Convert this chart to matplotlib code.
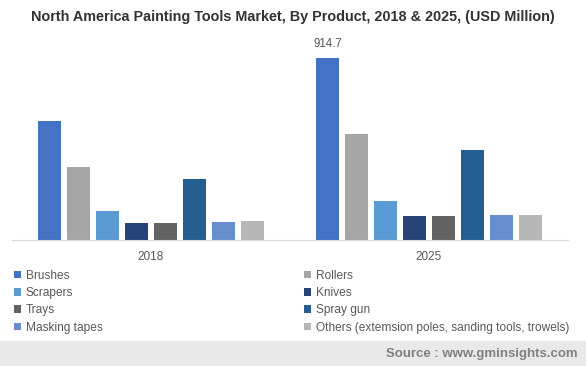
import numpy as np
import matplotlib.pyplot as plt
from matplotlib.patches import Patch, Rectangle

plt.rcParams['font.family'] = ['Liberation Sans', 'DejaVu Sans']

# data (USD Million)
years = ['2018', '2025']
products = ['Brushes', 'Rollers', 'Scrapers', 'Knives', 'Trays', 'Spray gun',
            'Masking tapes', 'Others (extemsion poles, sanding tools, trowels)']
values_2018 = [598, 367, 146, 85, 85, 307, 90, 95]
values_2025 = [914.7, 533, 196, 121, 121, 452, 126, 126]
colors = ['#4472C4', '#A5A5A5', '#5B9BD5', '#264478', '#636363', '#255E91',
          '#698ED0', '#B7B7B7']

W, H = 586, 366
fig = plt.figure(figsize=(W / 100, H / 100), dpi=100)
ax = fig.add_axes([12 / W, 126 / H, 556 / W, 200 / H])

x = np.arange(len(years))
pitch = 0.1043
width = 0.0827
vals = np.array([values_2018, values_2025])
for i, name in enumerate(products):
    ax.bar(x + (i - 3.5) * pitch, vals[:, i], width, color=colors[i], label=name)

# value label on the biggest bar
ax.text(x[1] - 3.5 * pitch, values_2025[0] + 40, f'{values_2025[0]:.1f}',
        ha='center', va='bottom', fontsize=8.3, color='#595959')

ax.set_xlim(-0.5, 1.5)
ax.set_ylim(0, 1005)
ax.set_xticks(x)
ax.set_xticklabels(years, fontsize=8.5, color='#595959')
ax.tick_params(axis='x', length=0, pad=8)
ax.set_yticks([])
for s in ['top', 'right', 'left']:
    ax.spines[s].set_visible(False)
ax.spines['bottom'].set_color('#d9d9d9')

fig.text(0.5, 1 - 17 / H, 'North America Painting Tools Market, By Product, 2018 & 2025, (USD Million)',
         ha='center', va='center', fontsize=10.4, fontweight='bold', color='#333333')

# legend, row-major like the original
order = list(range(0, 8, 2)) + list(range(1, 8, 2))
handles = [Patch(facecolor=colors[k], edgecolor='none') for k in order]
labels = [products[k] for k in order]
fig.legend(handles, labels, ncol=2, loc='upper left', bbox_to_anchor=(9 / W, 1 - 265 / H),
           frameon=False, fontsize=8.6, labelcolor='#595959', handlelength=0.6, handleheight=0.6,
           handletextpad=0.4, columnspacing=16.9, labelspacing=0.44, borderaxespad=0)

# footer
fig.patches.append(Rectangle((0, 0), 1, 25 / H, transform=fig.transFigure,
                             facecolor='#e9e9e9', edgecolor='none', zorder=0))
fig.text(578 / W, 12.5 / H, 'Source : www.gminsights.com', ha='right', va='center',
         fontsize=9.5, fontweight='bold', color='#808080')

fig.savefig('out.png', dpi=100)
